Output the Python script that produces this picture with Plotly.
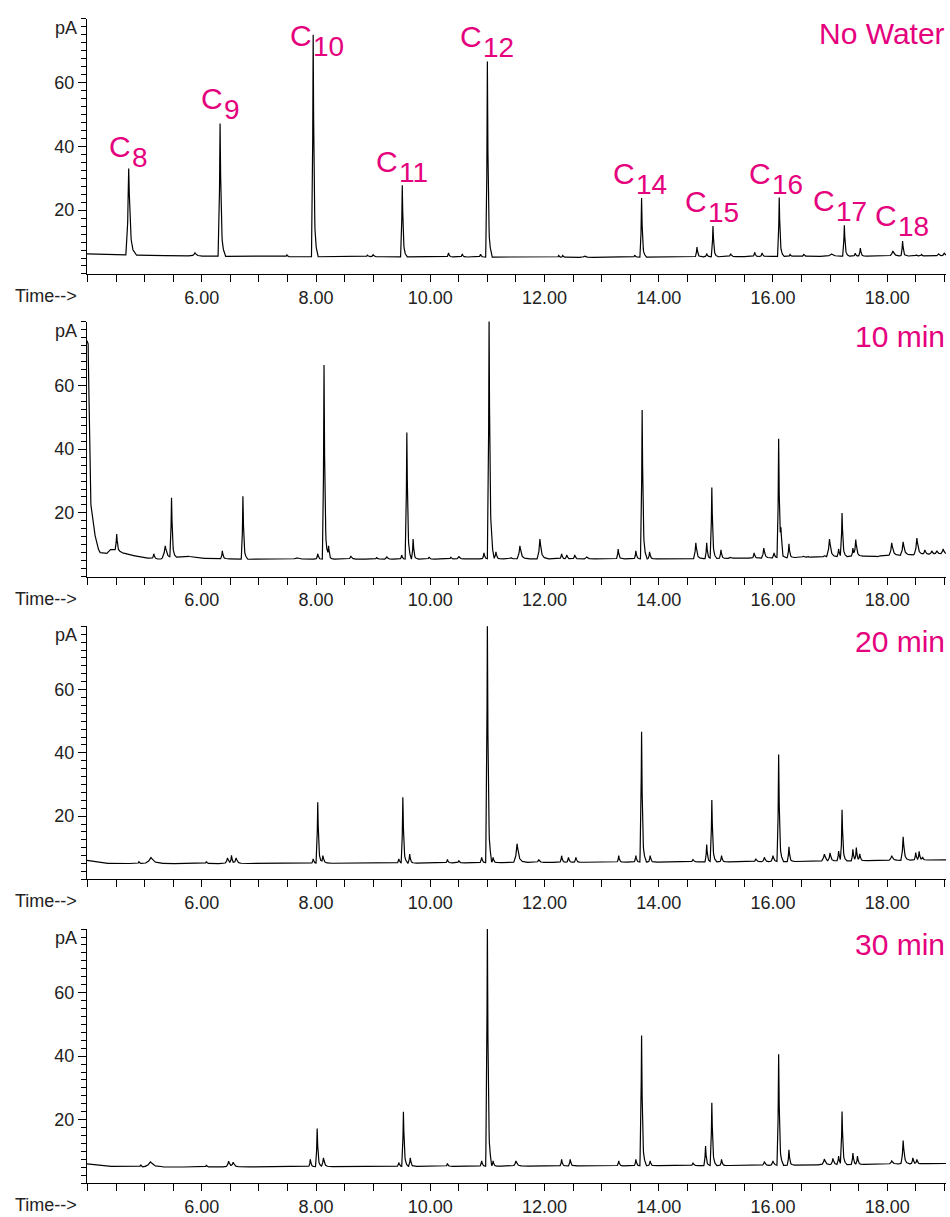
import numpy as np
import plotly.graph_objects as go

# ---------------- data ----------------
panel_names = ["No Water", "10 min", "20 min", "30 min"]
x_tick_vals = [6, 8, 10, 12, 14, 16, 18]
x_tick_text = ["6.00", "8.00", "10.00", "12.00", "14.00", "16.00", "18.00"]
y_tick_vals = [20, 40, 60]

# Panel 1: No Water
p1_base_t = [3.99, 4.5, 4.65, 5.0, 6.0, 7.5, 9.0, 11.0, 12.5, 14.0, 16.0, 18.0, 19.03]
p1_base_v = [6.3, 6.1, 6.0, 5.8, 5.6, 5.4, 5.4, 5.3, 5.2, 5.3, 5.5, 5.6, 5.7]
p1_pk_t = [4.72, 5.88, 6.32, 7.49, 7.95, 8.9, 9.0, 9.51, 10.32, 10.56, 10.88, 11.0, 12.25,
           12.32, 12.7, 13.58, 13.7, 14.67, 14.84, 14.95, 15.26, 15.68, 15.81, 16.11, 16.3,
           16.54, 17.02, 17.25, 17.44, 17.53, 18.1, 18.27, 18.51, 18.6, 18.9, 19.0]
p1_pk_h = [33.1, 6.6, 47.2, 6.0, 75.0, 5.9, 6.0, 27.8, 6.6, 6.3, 6.2, 66.6, 5.8,
           5.8, 5.7, 5.9, 23.8, 8.4, 6.4, 15.0, 6.3, 6.8, 6.6, 24.0, 6.1,
           6.1, 6.4, 15.3, 6.5, 8.1, 7.2, 10.3, 6.0, 6.1, 6.3, 6.6]
p1_pk_w = [0.05, 0.06, 0.035, 0.03, 0.03, 0.04, 0.04, 0.03, 0.03, 0.03, 0.03, 0.03, 0.03,
           0.03, 0.05, 0.03, 0.03, 0.03, 0.03, 0.03, 0.04, 0.03, 0.03, 0.03, 0.03,
           0.03, 0.08, 0.03, 0.03, 0.03, 0.06, 0.03, 0.03, 0.03, 0.04, 0.04]

# Panel 2: 10 min
p2_base_t = [3.99, 4.01, 4.026, 4.05, 4.10, 4.16, 4.21, 4.33, 4.39, 4.48, 4.68, 4.97, 5.26,
             5.73, 5.96, 7.0, 8.0, 9.0, 10.0, 11.0, 12.0, 13.0, 14.0, 15.0, 16.0, 17.0,
             18.0, 19.03]
p2_base_v = [74.0, 73.0, 51.0, 24.0, 15.9, 10.3, 7.6, 7.1, 8.5, 8.3, 7.1, 6.0, 5.5,
             6.5, 5.8, 5.4, 5.5, 5.5, 5.5, 5.6, 5.6, 5.6, 5.6, 5.7, 5.9, 6.2,
             6.6, 7.2]
p2_pk_t = [4.51, 5.16, 5.36, 5.47, 6.36, 6.72, 7.66, 8.03, 8.14, 8.22, 8.61, 9.06, 9.24,
           9.5, 9.59, 9.7, 9.98, 10.36, 10.5, 10.94, 11.03, 11.07, 11.15, 11.41, 11.57,
           11.92, 12.3, 12.39, 12.53, 12.74, 13.29, 13.6, 13.71, 13.84, 14.65, 14.84,
           14.93, 15.09, 15.25, 15.67, 15.84, 16.02, 16.1, 16.14, 16.28, 16.53, 16.61,
           16.9, 16.99, 17.15, 17.21, 17.4, 17.45, 17.82, 18.08, 18.28, 18.52, 18.66,
           18.78, 18.87, 18.98]
p2_pk_h = [13.4, 7.2, 9.7, 24.6, 8.1, 25.2, 6.0, 7.2, 66.4, 9.7, 6.5, 6.0, 6.2,
           6.8, 45.2, 11.8, 6.2, 6.2, 6.4, 7.5, 81.0, 10.6, 7.8, 6.0, 9.7,
           11.8, 7.2, 6.8, 6.8, 6.2, 8.7, 8.1, 52.3, 7.8, 10.6, 10.6,
           28.0, 8.4, 6.2, 7.5, 9.0, 7.5, 43.3, 12.8, 10.3, 6.5, 6.4,
           6.7, 11.8, 8.7, 19.9, 9.0, 11.5, 6.2, 10.6, 10.9, 12.1, 8.4,
           8.1, 8.1, 8.7]
p2_pk_w = [0.03, 0.03, 0.06, 0.03, 0.03, 0.03, 0.1, 0.03, 0.03, 0.03, 0.04, 0.04, 0.04,
           0.03, 0.03, 0.03, 0.03, 0.03, 0.04, 0.03, 0.03, 0.03, 0.03, 0.04, 0.05,
           0.05, 0.03, 0.03, 0.03, 0.04, 0.03, 0.03, 0.03, 0.03, 0.04, 0.03,
           0.03, 0.03, 0.04, 0.03, 0.04, 0.03, 0.03, 0.03, 0.03, 0.04, 0.04,
           0.05, 0.05, 0.03, 0.03, 0.03, 0.04, 0.05, 0.05, 0.05, 0.05, 0.04,
           0.04, 0.04, 0.04]

# Panel 3: 20 min
p3_base_t = [3.99, 4.3, 5.0, 6.0, 8.0, 10.0, 12.0, 14.0, 16.0, 17.0, 18.0, 19.03]
p3_base_v = [6.0, 5.1, 5.0, 5.0, 5.1, 5.2, 5.4, 5.5, 5.6, 5.8, 6.0, 6.2]
p3_pk_t = [4.9, 5.11, 6.08, 6.45, 6.52, 6.6, 7.95, 8.03, 8.12, 9.45, 9.52, 9.64, 10.3,
           10.5, 10.9, 11.0, 11.1, 11.52, 11.9, 12.3, 12.42, 12.55, 13.3, 13.6, 13.7,
           13.85, 14.6, 14.84, 14.93, 15.1, 15.7, 15.85, 16.0, 16.1, 16.28, 16.9, 17.0,
           17.15, 17.21, 17.4, 17.46, 17.52, 18.08, 18.28, 18.5, 18.56, 18.62]
p3_pk_h = [5.6, 6.9, 5.7, 6.8, 7.5, 6.8, 6.5, 24.4, 7.5, 6.5, 26.0, 8.0, 6.3,
           6.0, 7.0, 81.0, 7.0, 11.3, 6.3, 7.5, 7.0, 7.0, 7.5, 7.5, 46.7,
           7.5, 6.3, 11.0, 25.1, 7.5, 6.5, 7.0, 7.5, 39.5, 10.3, 8.0, 8.3,
           9.0, 21.9, 9.5, 10.0, 8.0, 7.5, 13.5, 8.5, 8.8, 7.0]
p3_pk_w = [0.03, 0.12, 0.03, 0.05, 0.03, 0.05, 0.03, 0.03, 0.04, 0.03, 0.03, 0.03, 0.03,
           0.03, 0.03, 0.03, 0.03, 0.06, 0.04, 0.03, 0.03, 0.03, 0.03, 0.03, 0.03,
           0.03, 0.04, 0.03, 0.03, 0.03, 0.04, 0.04, 0.04, 0.03, 0.03, 0.05, 0.04,
           0.03, 0.03, 0.03, 0.03, 0.03, 0.05, 0.04, 0.03, 0.03, 0.03]

# Panel 4: 30 min
p4_base_t = [3.99, 4.3, 5.0, 6.0, 8.0, 10.0, 12.0, 14.0, 16.0, 17.0, 18.0, 19.03]
p4_base_v = [6.1, 5.3, 5.1, 5.1, 5.2, 5.3, 5.4, 5.5, 5.6, 5.8, 6.0, 6.2]
p4_pk_t = [4.93, 5.1, 6.08, 6.47, 6.55, 7.9, 8.02, 8.13, 9.45, 9.53, 9.65, 10.3, 10.9,
           11.0, 11.1, 11.5, 12.3, 12.45, 13.3, 13.6, 13.7, 13.85, 14.6, 14.82, 14.93,
           15.1, 15.85, 16.0, 16.1, 16.28, 16.9, 17.05, 17.15, 17.21, 17.4, 17.48,
           18.08, 18.28, 18.45, 18.52]
p4_pk_h = [5.8, 6.7, 5.7, 6.9, 6.5, 7.5, 17.2, 8.0, 6.5, 22.5, 8.0, 6.2, 7.0,
           81.0, 7.0, 7.0, 7.5, 7.5, 7.0, 7.5, 46.5, 7.0, 6.3, 11.7, 25.3,
           7.5, 6.8, 7.0, 40.6, 10.5, 7.6, 7.8, 8.5, 22.5, 9.5, 8.5,
           7.0, 13.4, 8.0, 7.5]
p4_pk_w = [0.03, 0.12, 0.03, 0.05, 0.05, 0.03, 0.03, 0.04, 0.03, 0.03, 0.03, 0.03, 0.03,
           0.03, 0.03, 0.05, 0.03, 0.03, 0.03, 0.03, 0.03, 0.03, 0.04, 0.03, 0.03,
           0.03, 0.04, 0.04, 0.03, 0.03, 0.05, 0.04, 0.03, 0.03, 0.03, 0.03,
           0.05, 0.04, 0.03, 0.03]

# Carbon-number labels on the "No Water" trace
c_numbers = ["8", "9", "10", "11", "12", "14", "15", "16", "17", "18"]
c_label_t = [4.76, 6.37, 7.93, 9.43, 10.90, 13.58, 14.84, 15.96, 17.08, 18.18]
c_label_v = [33.4, 48.4, 68.1, 28.75, 67.8, 25.0, 16.25, 25.0, 16.6, 11.9]

# ---------------- build traces ----------------
X_MIN, X_MAX = 3.99, 19.03
SHAPE_OFF = np.array([-1.0, -0.4, 0.0, 0.5, 1.2, 2.5])
SHAPE_FR = np.array([0.0, 0.3, 1.0, 0.3, 0.08, 0.0])


def chromatogram(base_t, base_v, pk_t, pk_h, pk_w):
    grid = np.arange(X_MIN, X_MAX, 0.004)
    pts = [grid, np.array(base_t)]
    for t, w in zip(pk_t, pk_w):
        pts.append(t + SHAPE_OFF * w)
    x = np.unique(np.concatenate(pts))
    x = x[(x >= X_MIN) & (x <= X_MAX)]
    y = np.interp(x, base_t, base_v)
    for t, h, w in zip(pk_t, pk_h, pk_w):
        amp = h - np.interp(t, base_t, base_v)
        y = y + amp * np.interp(x, t + SHAPE_OFF * w, SHAPE_FR, left=0.0, right=0.0)
    return x, y


panels = [
    (p1_base_t, p1_base_v, p1_pk_t, p1_pk_h, p1_pk_w),
    (p2_base_t, p2_base_v, p2_pk_t, p2_pk_h, p2_pk_w),
    (p3_base_t, p3_base_v, p3_pk_t, p3_pk_h, p3_pk_w),
    (p4_base_t, p4_base_v, p4_pk_t, p4_pk_h, p4_pk_w),
]

W = 950
H = 1217
FONT = "Liberation Sans, Arial, sans-serif"
MAGENTA = "#E5007D"
TXT = "#222222"

# pixel geometry (top, bottom) of each panel
panel_px = [(19, 276), (324, 581), (631, 886), (936, 1192)]
x_dom = [87 / W, 946 / W]

fig = go.Figure()
layout = dict(
    width=W, height=H, margin=dict(l=0, r=0, t=0, b=0),
    paper_bgcolor="white", plot_bgcolor="white", showlegend=False,
    font=dict(family=FONT, size=18, color=TXT),
)
annotations = []

for i, (bt, bv, pt, ph, pw) in enumerate(panels):
    n = i + 1
    sfx = "" if n == 1 else str(n)
    x, y = chromatogram(bt, bv, pt, ph, pw)
    fig.add_trace(go.Scatter(x=x, y=y, mode="lines",
                             line=dict(color="black", width=1.2),
                             xaxis="x" + sfx, yaxis="y" + sfx,
                             hoverinfo="skip"))
    top, bot = panel_px[i]
    ydom = [1 - bot / H, 1 - top / H]
    layout["xaxis" + sfx] = dict(
        domain=x_dom, anchor="y" + sfx, range=[X_MIN, X_MAX],
        tickmode="array", tickvals=x_tick_vals, ticktext=x_tick_text,
        ticks="outside", ticklen=7, tickcolor="black", tickwidth=1,
        showline=True, linecolor="black", linewidth=1,
        showgrid=False, zeroline=False,
        minor=dict(dtick=0.5, tick0=4, ticks="outside", ticklen=7,
                   tickcolor="black", tickwidth=1, showgrid=False),
        tickfont=dict(family=FONT, size=18, color=TXT),
        ticklabelstandoff=0,
    )
    layout["yaxis" + sfx] = dict(
        domain=ydom, anchor="x" + sfx, range=[0, 80],
        tickmode="array", tickvals=y_tick_vals,
        ticks="outside", ticklen=8, tickcolor="black", tickwidth=1,
        showline=True, linecolor="black", linewidth=1,
        showgrid=False, zeroline=False,
        minor=dict(dtick=2.5, tick0=0, ticks="outside", ticklen=5,
                   tickcolor="black", tickwidth=1, showgrid=False),
        tickfont=dict(family=FONT, size=18, color=TXT),
        ticklabelstandoff=0,
    )
    # pA unit label
    annotations.append(dict(
        text="pA", xref="x" + sfx + " domain", yref="y" + sfx + " domain",
        x=0, y=1, xanchor="right", yanchor="middle", xshift=-8, yshift=-9,
        showarrow=False, font=dict(family=FONT, size=18, color=TXT)))
    # Time--> label
    annotations.append(dict(
        text="Time-->", xref="x" + sfx + " domain", yref="y" + sfx + " domain",
        x=0, y=0, xanchor="right", yanchor="middle", xshift=-8, yshift=-22,
        showarrow=False, font=dict(family=FONT, size=18, color=TXT)))
    # panel title
    annotations.append(dict(
        text=panel_names[i], xref="x" + sfx + " domain", yref="y" + sfx + " domain",
        x=1, y=1, xanchor="right", yanchor="middle", xshift=1, yshift=-15,
        showarrow=False, font=dict(family=FONT, size=30, color=MAGENTA)))

# carbon labels: "C" plus subscript digits
for num, t, v in zip(c_numbers, c_label_t, c_label_v):
    annotations.append(dict(
        text="C", xref="x", yref="y", x=t, y=v, xanchor="right", yanchor="bottom",
        yshift=3.5, xshift=1, showarrow=False, borderpad=0,
        font=dict(family=FONT, size=30, color=MAGENTA)))
    annotations.append(dict(
        text=num, xref="x", yref="y", x=t, y=v, xanchor="left", yanchor="bottom",
        yshift=-6.5, xshift=0, showarrow=False, borderpad=0,
        font=dict(family=FONT, size=28, color=MAGENTA)))

layout["annotations"] = annotations
fig.update_layout(**layout)

# remove the default page margin and scrollbars so the figure fills the window
page_js = ("document.body.style.margin='0';"
           "document.body.style.overflow='hidden';"
           "document.documentElement.style.overflow='hidden';")
fig.write_html("out.html", post_script=page_js,
               config={"displayModeBar": False, "staticPlot": True})
